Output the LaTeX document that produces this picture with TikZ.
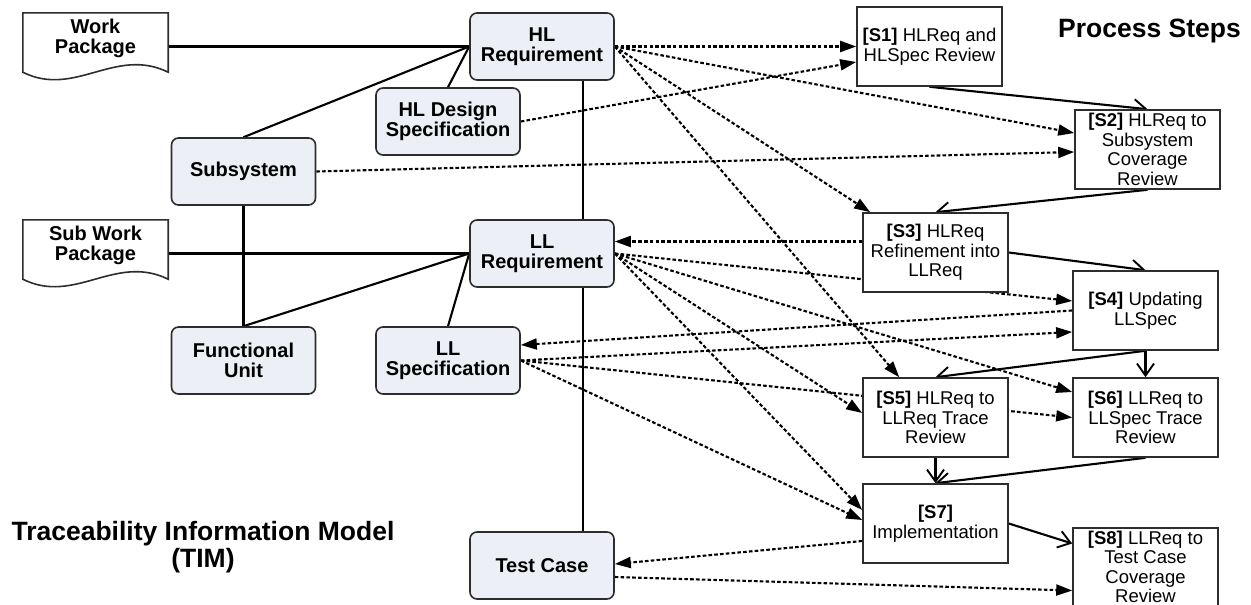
\documentclass[tikz,border=0pt]{standalone}
\usepackage{fontspec}
\setmainfont{Liberation Sans}
\usetikzlibrary{arrows.meta}
\pgfdeclarelayer{wires}
\pgfsetlayers{wires,main}
\definecolor{entfill}{RGB}{236,239,245}
\definecolor{edgegray}{RGB}{45,45,45}

% document shape (flowchart "document") on the bounds of a named node
\newcommand\docpath[1]{%
  \draw[docline] (#1.north west) -- (#1.north east) -- ([yshift=8pt]#1.south east)
    .. controls ([xshift=-53pt,yshift=34pt]#1.south east) and ([xshift=52pt,yshift=-18pt]#1.south west)
    .. ([yshift=8pt]#1.south west) -- cycle;}

\begin{document}
\begin{tikzpicture}[x=1pt,y=-1pt,
  entity/.style={draw=edgegray, fill=entfill, line width=1.6pt, rounded corners=7pt,
    minimum width=144pt, minimum height=67pt, inner sep=0pt, align=center,
    font=\fontsize{20}{20}\selectfont\bfseries},
  docbox/.style={minimum width=145pt, minimum height=67pt, inner sep=0pt},
  docline/.style={draw=edgegray, fill=white, line width=1.6pt},
  doctext/.style={inner sep=0pt, align=center, font=\fontsize{20}{20}\selectfont\bfseries},
  stepbox/.style={draw=edgegray, fill=white, line width=1.6pt,
    minimum width=145pt, minimum height=79pt, inner sep=0pt, align=center,
    font=\fontsize{18.5}{19.5}\selectfont},
  title/.style={inner sep=0pt, align=center, font=\fontsize{26.5}{27}\selectfont\bfseries},
  link/.style={line width=2.1pt},
  trace/.style={line width=2.1pt, dash pattern=on 3.6pt off 2.2pt,
    -{Triangle[length=16pt,width=11pt]}},
  flow/.style={line width=2.1pt, -{Straight Barb[length=12pt,width=17pt,line width=1.9pt]}}
]
\useasboundingbox (0,0) rectangle (1251,605);

% ---- traceability information model ----
\node[docbox] (wp) at (95.5,46.5) {};
\docpath{wp}
\node[doctext] (wptext) at (95.5,38.5) {Work\\Package};

\node[docbox] (swp) at (95.5,253.5) {};
\docpath{swp}
\node[doctext] (swptext) at (95.5,245.5) {Sub Work\\Package};

\node[entity] (hlreq)  at (542,46.5)    {HL\\Requirement};
\node[entity] (hlds)   at (448,121.5)   {HL Design\\Specification};
\node[entity] (subsys) at (243.5,171.5) {Subsystem};
\node[entity] (llreq)  at (542,253.5)   {LL\\Requirement};
\node[entity] (funit)  at (243.5,360.5) {Functional\\Unit};
\node[entity] (llspec) at (448,360.5)   {LL\\Specification};
\node[entity] (tcase)  at (542,565.5)   {Test Case};

\coordinate (vx) at (583,0);

% ---- process steps ----
\node[stepbox] (s1) at (929.5,46.5)  {\textbf{[S1]} HLReq and\\HLSpec Review};
\node[stepbox] (s2) at (1147.5,149.5) {\textbf{[S2]} HLReq to\\Subsystem\\Coverage\\Review};
\node[stepbox] (s3) at (935.5,252.5) {\textbf{[S3]} HLReq\\Refinement into\\LLReq};
\node[stepbox] (s4) at (1145.5,310.5) {\textbf{[S4]} Updating\\LLSpec};
\node[stepbox] (s5) at (935.5,417.5) {\textbf{[S5]} HLReq to\\LLReq Trace\\Review};
\node[stepbox] (s6) at (1145.5,417.5) {\textbf{[S6]} LLReq to\\LLSpec Trace\\Review};
\node[stepbox] (s7) at (935.5,523.5) {\textbf{[S7]}\\Implementation};
\node[stepbox, minimum height=78pt] (s8) at (1145.5,567) {\textbf{[S8]} LLReq to\\Test Case\\Coverage\\Review};

% ---- titles ----
\node[title, anchor=base] (steps) at (1149.5,37) {Process Steps};
\node[title] (tim) at (203,547.5) {Traceability Information Model\\(TIM)};

\begin{pgfonlayer}{wires}
  % model relations
  \draw[link] (wp.east) -- (hlreq.west);
  \draw[link] (subsys.north) -- (hlreq.west);
  \draw[link] (hlds.north) -- (hlreq.west);
  \draw[link] (hlreq.south -| vx) -- (llreq.north -| vx);
  \draw[link] (llreq.south -| vx) -- (tcase.north -| vx);
  \draw[link] (subsys.south) -- (funit.north);
  \draw[link] (swp.east) -- (llreq.west);
  \draw[link] (funit.north) -- (llreq.west);
  \draw[link] (llspec.north) -- (llreq.west);

  % artefacts used by the steps
  \draw[trace] (hlreq.east) -- (s1.west);
  \draw[trace] (hlreq.east) -- ([yshift=16.5pt]s2.west);
  \draw[trace] (hlreq.east) -- ([xshift=8pt]s3.north west);
  \draw[trace] (hlreq.east) -- ([xshift=37pt]s5.north west);
  \draw[trace] (hlds.east) -- ([yshift=-15.5pt]s1.west);
  \draw[trace] (subsys.east) -- ([yshift=-2.5pt]s2.west);
  \draw[trace] ([yshift=11pt]s3.west) -- ([yshift=12pt]llreq.east);
  \draw[trace] (llreq.east) -- ([yshift=9.5pt]s4.west);
  \draw[trace] (llreq.east) -- ([yshift=25.5pt]s6.west);
  \draw[trace] (llreq.east) -- ([yshift=4.5pt]s5.west);
  \draw[trace] (llreq.east) -- ([yshift=13.5pt]s7.west);
  \draw[trace] (s4.west) -- ([yshift=15.5pt]llspec.east);
  \draw[trace] (llspec.east) -- ([yshift=-21.5pt]s4.west);
  \draw[trace] (llspec.east) -- (s6.west);
  \draw[trace] (llspec.east) -- ([yshift=3.5pt]s7.west);
  \draw[trace] ([yshift=-17.5pt]s7.west) -- ([yshift=1.5pt]tcase.east);
  \draw[trace] ([yshift=-11.5pt]tcase.east) -- ([yshift=-23.5pt]s8.west);

  % order of the steps
  \draw[flow] (s1.south) -- (s2.north);
  \draw[flow] (s2.south) -- (s3.north);
  \draw[flow] (s3.east) -- (s4.north);
  \draw[flow] (s4.south) -- (s5.north);
  \draw[flow] (s4.south) -- (s6.north);
  \draw[flow] (s5.south) -- (s7.north);
  \draw[flow] (s6.south) -- (s7.north);
  \draw[flow] (s7.east) -- ([yshift=23.5pt]s8.west);
\end{pgfonlayer}
\end{tikzpicture}
\end{document}
